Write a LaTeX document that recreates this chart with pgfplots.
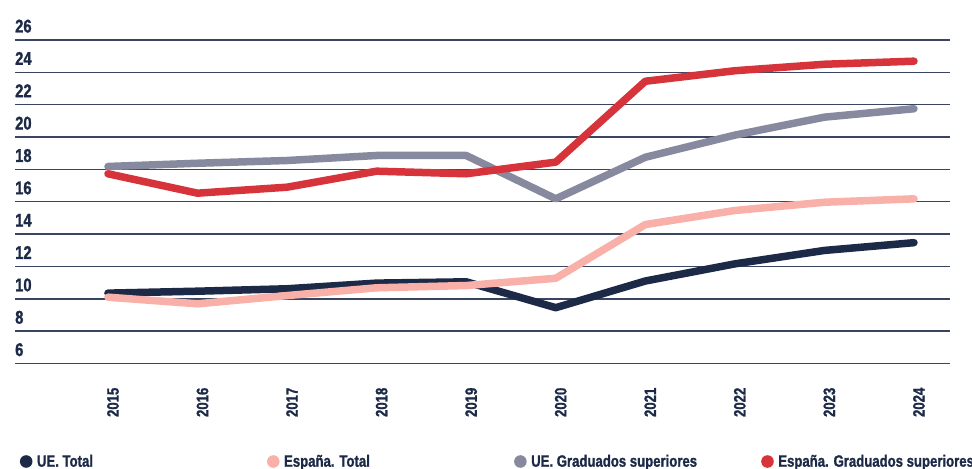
\documentclass[border=0pt]{standalone}
\usepackage{pgfplots}
\pgfplotsset{compat=1.18}
\usepackage{fontspec}
\setmainfont{Liberation Sans}[BoldFont={* Bold}, BoldFeatures={FakeStretch=0.8, FakeBold=1.2}, FakeStretch=0.8]
\definecolor{navy}{HTML}{1C2A47}
\definecolor{pinkc}{HTML}{F9B0A8}
\definecolor{grayc}{HTML}{878A9F}
\definecolor{redc}{HTML}{D6333B}
\definecolor{gridc}{HTML}{3A4560}
\begin{document}
\begin{tikzpicture}
\begin{axis}[
  at={(0,0)}, anchor=south west,
  scale only axis, width=935bp, height=323.5bp,
  xmin=2013.962, xmax=2024.402, ymin=6, ymax=26,
  ytick={6,8,...,26}, xtick={2015,...,2024},
  axis line style={draw=none}, major tick length=0pt,
  ymajorgrids, grid style={gridc, line width=1.4bp},
  /pgf/number format/assume math mode=true,
  /pgf/number format/1000 sep={},
  yticklabel style={anchor=base west, inner sep=0pt, yshift=7.5bp, font=\bfseries\fontsize{18.5}{18.5}\selectfont, text=navy},
  xticklabel style={xshift=5bp, yshift=-24bp, rotate=90, anchor=east, inner sep=0pt, font=\bfseries\fontsize{16.5}{16.5}\selectfont, text=navy},
  clip=false,
  every axis plot/.append style={line width=7.5bp, line cap=round, line join=round, mark=none},
  legend columns=4,
  legend style={at={(0,0)}, anchor=west, xshift=4.7bp, yshift=-98bp, draw=none, fill=none, inner sep=0pt, column sep=0pt, row sep=0pt, font=\bfseries\fontsize{16.5}{16.5}\selectfont, text=navy, nodes={inner sep=0pt}},
  legend image code/.code={\fill[#1, draw=none] (6.3bp,0bp) circle (6.3bp);},
]
\addplot[navy] coordinates {(2015,10.35) (2016,10.47) (2017,10.62) (2018,10.97) (2019,11.05) (2020,9.45) (2021,11.1) (2022,12.16) (2023,12.99) (2024,13.47)};
\addlegendentry{\hspace*{4.5bp}\makebox[230bp][l]{UE. Total}}
\addplot[pinkc] coordinates {(2015,10.1) (2016,9.69) (2017,10.2) (2018,10.68) (2019,10.82) (2020,11.27) (2021,14.59) (2022,15.46) (2023,15.97) (2024,16.18)};
\addlegendentry{\hspace*{4.5bp}\makebox[230bp][l]{España. Total}}
\addplot[grayc] coordinates {(2015,18.18) (2016,18.38) (2017,18.55) (2018,18.86) (2019,18.86) (2020,16.18) (2021,18.75) (2022,20.12) (2023,21.23) (2024,21.75)};
\addlegendentry{\hspace*{4.5bp}\makebox[230bp][l]{UE. Graduados superiores}}
\addplot[redc] coordinates {(2015,17.73) (2016,16.53) (2017,16.9) (2018,17.89) (2019,17.73) (2020,18.45) (2021,23.45) (2022,24.1) (2023,24.5) (2024,24.69)};
\addlegendentry{\hspace*{4.5bp}\makebox[230bp][l]{España. Graduados superiores}}
\end{axis}
\pgfresetboundingbox
\useasboundingbox (-15bp,-105bp) rectangle (957bp,363.5bp);
\end{tikzpicture}
\end{document}
